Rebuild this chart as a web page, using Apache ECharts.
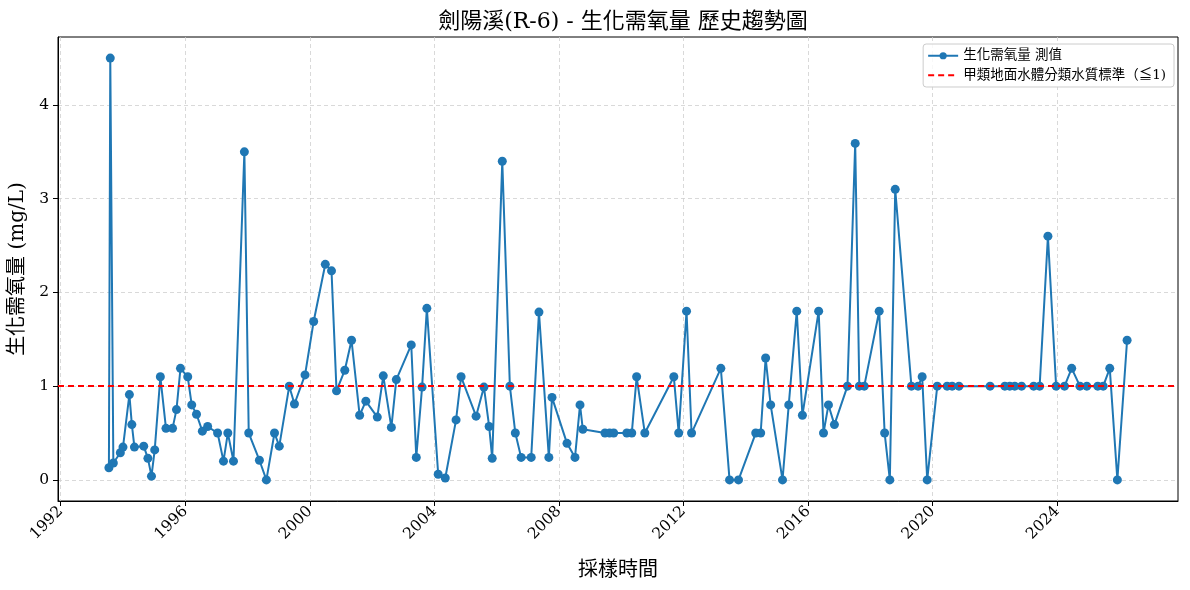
<!DOCTYPE html>
<html>
<head>
<meta charset="utf-8">
<script src="https://cdn.jsdelivr.net/npm/echarts@6/dist/echarts.min.js"></script>
<style>html,body{margin:0;padding:0;background:#fff;}#chart{width:1190px;height:590px;}</style>
</head>
<body>
<div id="chart"></div>
<script>
const titleText = '劍陽溪(R-6) - 生化需氧量 歷史趨勢圖';
const seriesName = '生化需氧量 測值';
const standardName = '甲類地面水體分類水質標準（≦1)';
const xAxisName = '採樣時間';
const yAxisName = '生化需氧量 (mg/L)';
const standardValue = 1;

const sampleDates = [
 '1993-07-20','1993-08-05','1993-09-10','1993-12-01','1994-01-01','1994-03-17','1994-04-15','1994-05-15','1994-09-01','1994-10-20',
 '1994-12-01','1995-01-08','1995-03-15','1995-05-20','1995-08-05','1995-09-20','1995-11-06','1996-01-30','1996-03-17','1996-05-12',
 '1996-07-20','1996-09-20','1997-01-15','1997-03-25','1997-05-15','1997-07-20','1997-11-25','1998-01-15','1998-05-20','1998-08-10',
 '1998-11-13','1999-01-08','1999-05-05','1999-07-05','1999-11-06','2000-02-15','2000-07-01','2000-09-12','2000-11-10','2001-02-15',
 '2001-05-05','2001-08-08','2001-10-20','2002-03-03','2002-05-12','2002-08-15','2002-10-12','2003-04-05','2003-06-03','2003-08-10',
 '2003-10-05','2004-02-15','2004-05-08','2004-09-12','2004-11-10','2005-05-05','2005-08-05','2005-10-05','2005-11-10','2006-03-08',
 '2006-06-05','2006-08-08','2006-10-15','2007-02-10','2007-05-12','2007-09-05','2007-10-12','2008-04-05','2008-07-08','2008-09-05',
 '2008-10-08','2009-06-25','2009-08-18','2009-10-05','2010-03-08','2010-05-05','2010-07-01','2010-10-05','2011-09-10','2011-11-06',
 '2012-02-06','2012-04-05','2013-03-15','2013-06-25','2013-10-08','2014-04-28','2014-06-25','2014-08-22','2014-10-20','2015-03-08',
 '2015-05-20','2015-08-22','2015-10-27','2016-05-05','2016-07-01','2016-08-28','2016-11-06','2017-04-08','2017-07-08','2017-08-25',
 '2017-10-22','2018-04-15','2018-06-18','2018-08-18','2018-10-20','2019-04-28','2019-07-15','2019-09-01','2019-10-30','2020-02-25',
 '2020-06-20','2020-08-18','2020-11-06','2021-11-06','2022-04-28','2022-06-25','2022-08-22','2022-11-10','2023-04-01','2023-06-10',
 '2023-09-15','2023-12-20','2024-03-28','2024-06-20','2024-09-25','2024-12-15','2025-04-22','2025-06-25','2025-09-10','2025-12-08',
 '2026-04-01'
];
const bodValues = [
 0.13,4.5,0.18,0.29,0.35,0.91,0.59,0.35,0.36,0.23,
 0.04,0.32,1.10,0.55,0.55,0.75,1.19,1.10,0.80,0.70,
 0.52,0.57,0.50,0.20,0.50,0.20,3.50,0.50,0.21,0.0,
 0.50,0.36,1.0,0.81,1.12,1.69,2.30,2.23,0.95,1.17,
 1.49,0.69,0.84,0.67,1.11,0.56,1.07,1.44,0.24,0.99,
 1.83,0.06,0.02,0.64,1.10,0.68,0.99,0.57,0.23,3.40,
 1.0,0.50,0.24,0.24,1.79,0.24,0.88,0.39,0.24,0.80,
 0.54,0.50,0.50,0.50,0.50,0.50,1.10,0.50,1.10,0.50,
 1.80,0.50,1.19,0.0,0.0,0.50,0.50,1.30,0.80,0.0,
 0.80,1.80,0.69,1.80,0.50,0.80,0.59,1.0,3.59,1.0,
 1.0,1.80,0.50,0.0,3.10,1.0,1.0,1.10,0.0,1.0,
 1.0,1.0,1.0,1.0,1.0,1.0,1.0,1.0,1.0,1.0,
 2.60,1.0,1.0,1.19,1.0,1.0,1.0,1.0,1.19,0.0,
 1.49
];
const xTickYears = [1992,1996,2000,2004,2008,2012,2016,2020,2024];
const yTickValues = [0,1,2,3,4];

function toDecimalYear(s){
  const d = Date.parse(s + 'T00:00:00Z');
  const y = new Date(d).getUTCFullYear();
  const a = Date.UTC(y,0,1), b = Date.UTC(y+1,0,1);
  return y + (d - a) / (b - a);
}
const points = sampleDates.map((s,i)=>[toDecimalYear(s), bodValues[i]]);
const xs = points.map(p=>p[0]);
const xMinData = Math.min(...xs), xMaxData = Math.max(...xs);
const xPad = (xMaxData - xMinData) * 0.05;
const yMinData = Math.min(...bodValues), yMaxData = Math.max(...bodValues);
const yPad = (yMaxData - yMinData) * 0.05;

const serifFont = "'DejaVu Serif', 'Noto Sans CJK TC', serif";
const gridLine = {show:true, lineStyle:{color:'#cfcfcf', type:[4,3], width:0.8}};

const chart = echarts.init(document.getElementById('chart'), null, {renderer:'canvas'});
chart.setOption({
  backgroundColor:'#fff',
  animation:false,
  title:{
    text:titleText, left:618, textAlign:'center', top:6,
    textStyle:{fontFamily:serifFont, fontSize:22, fontWeight:'normal', color:'#000'}
  },
  legend:{
    orient:'vertical', right:16, top:44,
    backgroundColor:'rgba(255,255,255,0.8)',
    borderColor:'#cccccc', borderWidth:1, borderRadius:3,
    padding:[5,8,5,4], itemGap:6, itemWidth:30, itemHeight:9,
    textStyle:{fontFamily:serifFont, fontSize:13.5, color:'#000'},
    data:[seriesName, standardName]
  },
  grid:{left:58, right:12, top:37, bottom:89, outerBoundsMode:'none', containLabel:false,
        show:true, borderColor:'#000', borderWidth:1, backgroundColor:'transparent'},
  xAxis:{
    type:'value', min:xMinData - xPad, max:xMaxData + xPad,
    name:xAxisName, nameLocation:'middle', nameGap:60,
    nameTextStyle:{fontFamily:serifFont, fontSize:20, color:'#000'},
    axisLine:{show:true, onZero:false, lineStyle:{color:'#000', width:1}},
    axisTick:{show:true, length:5, lineStyle:{color:'#000'}, customValues:xTickYears},
    axisLabel:{rotate:45, fontFamily:serifFont, fontSize:15.5, color:'#000', margin:8, customValues:xTickYears, formatter:v=>String(Math.round(v))},
    splitLine:gridLine
  },
  yAxis:{
    type:'value', min:yMinData - yPad, max:yMaxData + yPad,
    name:yAxisName, nameLocation:'middle', nameGap:29, nameRotate:90,
    nameTextStyle:{fontFamily:serifFont, fontSize:20, color:'#000'},
    axisLine:{show:true, onZero:false, lineStyle:{color:'#000', width:1}},
    axisTick:{show:true, length:5, lineStyle:{color:'#000'}, customValues:yTickValues},
    axisLabel:{fontFamily:serifFont, fontSize:15.5, color:'#000', margin:9, customValues:yTickValues, formatter:v=>String(Math.round(v))},
    splitLine:gridLine
  },
  series:[
    {
      name:seriesName, type:'line', data:points,
      symbol:'circle', symbolSize:9, showAllSymbol:true,
      itemStyle:{color:'#1f77b4'},
      lineStyle:{color:'#1f77b4', width:2},
      z:3
    },
    {
      name:standardName, type:'line', data:[],
      symbol:'none',
      itemStyle:{color:'#ff0000', opacity:0},
      lineStyle:{color:'#ff0000', type:[6,4], width:2},
      markLine:{
        silent:true, symbol:'none', label:{show:false},
        lineStyle:{color:'#ff0000', type:[6,4], width:2, opacity:1},
        data:[{yAxis:standardValue}]
      },
      z:4
    }
  ]
});
</script>
</body>
</html>
